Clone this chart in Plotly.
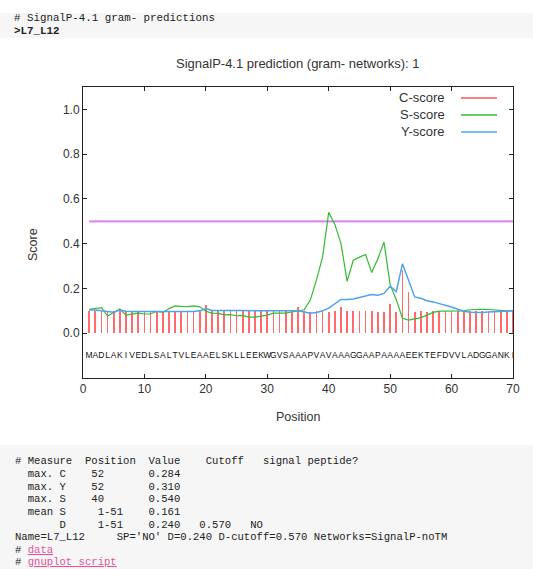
import plotly.graph_objects as go

# ---------------- data ----------------
POSITIONS = list(range(1, 71))
SEQUENCE = list("MADLAKIVEDLSALTVLEAAELSKLLEEKWGVSAAAPVAVAAAGGAAPAAAAEEKTEFDVVLADGGANKI")

C_SCORE = [0.100, 0.100, 0.100, 0.100, 0.100, 0.100, 0.100, 0.100, 0.100, 0.100,
           0.100, 0.100, 0.100, 0.100, 0.100, 0.100, 0.100, 0.100, 0.100, 0.126,
           0.100, 0.100, 0.100, 0.100, 0.100, 0.100, 0.100, 0.100, 0.100, 0.100,
           0.100, 0.100, 0.100, 0.100, 0.118, 0.100, 0.095, 0.100, 0.100, 0.095,
           0.100, 0.115, 0.100, 0.100, 0.100, 0.100, 0.100, 0.097, 0.097, 0.130,
           0.095, 0.284, 0.185, 0.097, 0.100, 0.097, 0.100, 0.100, 0.100, 0.100,
           0.100, 0.100, 0.100, 0.100, 0.100, 0.100, 0.100, 0.100, 0.100, 0.100]

S_SCORE = [0.107, 0.110, 0.114, 0.077, 0.093, 0.108, 0.081, 0.087, 0.090, 0.086,
           0.086, 0.098, 0.093, 0.110, 0.122, 0.120, 0.119, 0.122, 0.118, 0.098,
           0.090, 0.089, 0.082, 0.083, 0.078, 0.080, 0.072, 0.072, 0.075, 0.081,
           0.090, 0.089, 0.090, 0.095, 0.100, 0.105, 0.148, 0.237, 0.340, 0.540,
           0.486, 0.400, 0.232, 0.326, 0.340, 0.352, 0.271, 0.333, 0.407, 0.217,
           0.150, 0.067, 0.059, 0.064, 0.070, 0.081, 0.093, 0.099, 0.100, 0.100,
           0.100, 0.100, 0.105, 0.107, 0.107, 0.106, 0.104, 0.100, 0.100, 0.100]

Y_SCORE = [0.104, 0.104, 0.100, 0.098, 0.094, 0.104, 0.098, 0.097, 0.097, 0.097,
           0.097, 0.097, 0.096, 0.096, 0.096, 0.096, 0.096, 0.097, 0.100, 0.110,
           0.102, 0.101, 0.101, 0.101, 0.101, 0.101, 0.100, 0.100, 0.100, 0.100,
           0.100, 0.100, 0.100, 0.100, 0.100, 0.095, 0.089, 0.093, 0.100, 0.112,
           0.130, 0.151, 0.151, 0.153, 0.160, 0.167, 0.173, 0.170, 0.178, 0.210,
           0.186, 0.310, 0.235, 0.162, 0.156, 0.145, 0.140, 0.133, 0.126, 0.117,
           0.107, 0.098, 0.094, 0.093, 0.093, 0.095, 0.097, 0.098, 0.099, 0.100]

CUTOFF = 0.5
SEQ_LEVEL = -0.1
X_TICKS = [0, 10, 20, 30, 40, 50, 60, 70]
Y_TICKS = [0.0, 0.2, 0.4, 0.6, 0.8, 1.0]

TITLE = "SignalP-4.1 prediction (gram- networks): 1"
HEADER_LINES = ["# SignalP-4.1 gram- predictions", "<b>>L7_L12</b>"]
REPORT_LINES = [
    "# Measure  Position  Value    Cutoff   signal peptide?",
    "  max. C    52       0.284",
    "  max. Y    52       0.310",
    "  max. S    40       0.540",
    "  mean S     1-51    0.161",
    "       D     1-51    0.240   0.570   NO",
    "Name=L7_L12     SP='NO' D=0.240 D-cutoff=0.570 Networks=SignalP-noTM",
]
LINK_LINES = ["data", "gnuplot script"]
LEGEND = [("C-score", "#ff5555"), ("S-score", "#33bb33"), ("Y-score", "#4da3f0")]

# ---------------- geometry helpers ----------------
W, H = 533, 569
L, R, T, B = 83, 513, 87, 378


def xp(px):
    return (px - L) / (R - L)


def yp(py):
    return (B - py) / (B - T)


def nb(s):
    return s.replace(" ", "\u00a0")


SANS = "Liberation Sans, Arial, sans-serif"
MONO = "Liberation Mono, Courier New, monospace"
TXT = "#333333"

fig = go.Figure()

# C-score impulses
fig.add_trace(go.Bar(x=POSITIONS, y=C_SCORE, width=0.3,
                     marker=dict(color="rgba(255,70,70,0.8)", line=dict(width=0)),
                     showlegend=False, hoverinfo="skip"))
# cutoff line
fig.add_trace(go.Scatter(x=[min(POSITIONS), max(POSITIONS)], y=[CUTOFF, CUTOFF],
                         mode="lines", line=dict(color="#d98cf0", width=2.2),
                         showlegend=False, hoverinfo="skip"))
# S-score
fig.add_trace(go.Scatter(x=POSITIONS, y=S_SCORE, mode="lines",
                         line=dict(color=LEGEND[1][1], width=1.2),
                         showlegend=False))
# Y-score
fig.add_trace(go.Scatter(x=POSITIONS, y=Y_SCORE, mode="lines",
                         line=dict(color=LEGEND[2][1], width=1.5),
                         showlegend=False))
# sequence letters
fig.add_trace(go.Scatter(x=POSITIONS, y=[SEQ_LEVEL] * len(POSITIONS), mode="text",
                         text=SEQUENCE, textposition="middle center",
                         textfont=dict(family=SANS, size=8.5, color="#111111"),
                         showlegend=False, hoverinfo="skip"))

annotations = []
shapes = []

# background bands
shapes.append(dict(type="rect", xref="paper", yref="paper", layer="below",
                   x0=xp(0), x1=xp(W), y0=yp(13), y1=yp(38),
                   fillcolor="#f6f6f6", line=dict(width=0)))
shapes.append(dict(type="rect", xref="paper", yref="paper", layer="below",
                   x0=xp(0), x1=xp(W), y0=yp(H), y1=yp(445),
                   fillcolor="#f6f6f6", line=dict(width=0)))

# header
for i, line in enumerate(HEADER_LINES):
    annotations.append(dict(x=xp(12), y=yp(18 + 12.5 * i), xref="paper", yref="paper",
                            text=nb(line), showarrow=False, xanchor="left", yanchor="middle",
                            font=dict(family=MONO, size=10.8, color="#222222")))

# title
annotations.append(dict(x=0.5, y=yp(63), xref="paper", yref="paper", text=TITLE,
                        showarrow=False, xanchor="center", yanchor="middle",
                        font=dict(family=SANS, size=13, color=TXT)))

# axis titles
annotations.append(dict(x=xp(33), y=yp(245), xref="paper", yref="paper", text="Score",
                        textangle=-90, showarrow=False, xanchor="center", yanchor="middle",
                        font=dict(family=SANS, size=12.5, color=TXT)))
annotations.append(dict(x=0.5, y=yp(417), xref="paper", yref="paper", text="Position",
                        showarrow=False, xanchor="center", yanchor="middle",
                        font=dict(family=SANS, size=12.5, color=TXT)))

# legend
for i, (name, col) in enumerate(LEGEND):
    py = 97 + 17 * i
    annotations.append(dict(x=xp(447), y=yp(py), xref="paper", yref="paper", text=name,
                            showarrow=False, xanchor="right", yanchor="middle",
                            font=dict(family=SANS, size=13, color=TXT)))
    shapes.append(dict(type="line", xref="paper", yref="paper",
                       x0=xp(461), x1=xp(497), y0=yp(py + 1), y1=yp(py + 1),
                       line=dict(color=col, width=1.5)))

# report text (9 lines, last one kept inside the page)
LINE0, STEP = 461.5, 12.6
for i, line in enumerate(REPORT_LINES):
    annotations.append(dict(x=xp(13), y=yp(LINE0 + STEP * i), xref="paper", yref="paper",
                            text=nb(line), showarrow=False, xanchor="left", yanchor="middle",
                            font=dict(family=MONO, size=10.6, color="#222222")))
for j, link in enumerate(LINK_LINES):
    k = len(REPORT_LINES) + j
    annotations.append(dict(x=xp(13), y=yp(LINE0 + STEP * k), xref="paper", yref="paper",
                            text="#\u00a0<span style='color:#e0559c;text-decoration:underline'>"
                                 + nb(link) + "</span>",
                            showarrow=False, xanchor="left", yanchor="middle",
                            font=dict(family=MONO, size=10.6, color="#222222")))

fig.update_layout(
    width=W, height=H,
    margin=dict(l=L, r=W - R, t=T, b=H - B, pad=0),
    paper_bgcolor="white", plot_bgcolor="white",
    showlegend=False, bargap=0,
    annotations=annotations, shapes=shapes,
    font=dict(family=SANS, color=TXT),
)
fig.update_xaxes(range=[0, 70], tickvals=X_TICKS, ticks="inside", ticklen=4,
                 tickcolor="#222222", showline=True, linecolor="#222222", linewidth=1,
                 mirror="ticks", showgrid=False, zeroline=False,
                 tickfont=dict(family=SANS, size=12, color=TXT))
fig.update_yaxes(range=[-0.2, 1.1], tickvals=Y_TICKS, tickformat=".1f", ticks="inside",
                 ticklen=4, tickcolor="#222222", showline=True, linecolor="#222222",
                 linewidth=1, mirror="ticks", showgrid=False, zeroline=False,
                 tickfont=dict(family=SANS, size=12, color=TXT))

fig.write_html("out.html", config={"displayModeBar": False},
               post_script="document.body.style.margin='0px';document.body.style.overflow='hidden';")
